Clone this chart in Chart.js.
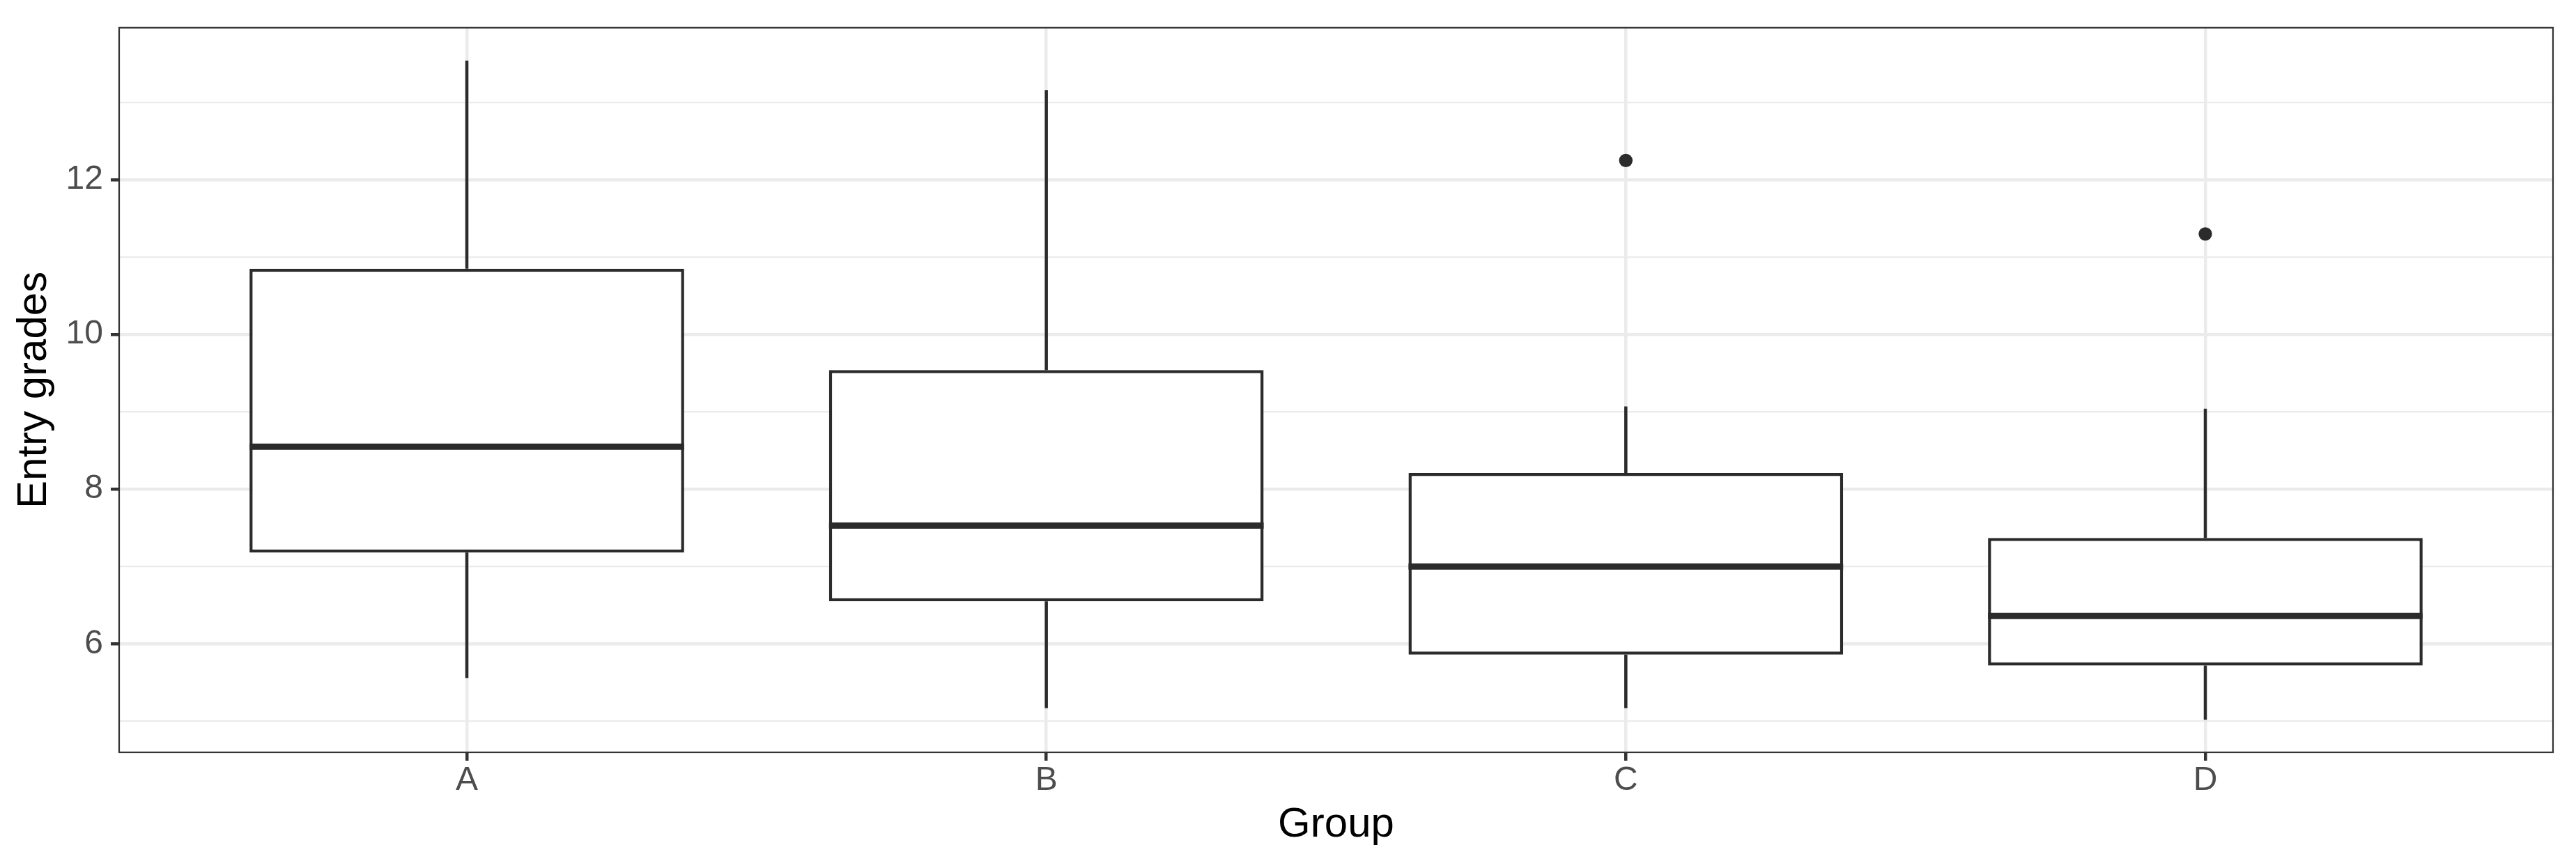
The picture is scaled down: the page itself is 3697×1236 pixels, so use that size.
<!DOCTYPE html>
<html>
<head>
<meta charset="utf-8">
<script src="https://cdn.jsdelivr.net/npm/chart.js@4/dist/chart.umd.min.js"></script>
<style>
  html, body { margin: 0; padding: 0; background: #ffffff; }
  canvas { display: block; }
</style>
</head>
<body>
<canvas id="c" width="3697" height="1236"></canvas>
<script>
// ---- Data ----
const categories   = ['A', 'B', 'C', 'D'];
const whiskerLow   = [5.56, 5.17, 5.17, 5.02];
const q1           = [7.18, 6.55, 5.86, 5.72];
const median       = [8.55, 7.53, 7.00, 6.36];
const q3           = [10.85, 9.54, 8.21, 7.37];
const whiskerHigh  = [13.54, 13.16, 9.07, 9.04];
const outlierGroup = [2, 3];          // index into categories
const outlierValue = [12.25, 11.30];
const yTickValues  = [6, 8, 10, 12];
const xTitle = 'Group';
const yTitle = 'Entry grades';

// ---- Styling constants ----
const LINE = '#2b2b2b';
const GRID = '#EBEBEB';
const BOX_W = 0.75;            // box width as fraction of category step
const LW = 4.5;                // 0.5mm line at this resolution

Chart.defaults.font.family = "'Liberation Sans', Arial, Helvetica, sans-serif";
Chart.defaults.devicePixelRatio = 1;

// build library datasets from the arrays
const boxData = categories.map((c, i) => ({ x: i, y: [q1[i], q3[i]] }));
const whiskerData = [];
categories.forEach((c, i) => {
  whiskerData.push({ x: i, y: q3[i] }, { x: i, y: whiskerHigh[i] }, { x: i, y: null });
  whiskerData.push({ x: i, y: q1[i] }, { x: i, y: whiskerLow[i] }, { x: i, y: null });
});
const medianData = [];
categories.forEach((c, i) => {
  medianData.push({ x: i - BOX_W / 2, y: median[i] }, { x: i + BOX_W / 2, y: median[i] }, { x: i, y: null });
});
const outlierData = outlierGroup.map((g, k) => ({ x: g, y: outlierValue[k] }));

const panelBorder = {
  id: 'panelBorder',
  afterDatasetsDraw(chart) {
    const { ctx, chartArea: a } = chart;
    ctx.save();
    ctx.strokeStyle = '#333333';
    ctx.lineWidth = 2.2;
    ctx.strokeRect(a.left, a.top, a.right - a.left, a.bottom - a.top);
    ctx.restore();
  }
};

new Chart(document.getElementById('c'), {
  type: 'bar',
  data: {
    datasets: [
      {
        type: 'line', label: 'median', data: medianData,
        borderColor: LINE, borderWidth: LW * 2, pointRadius: 0, spanGaps: false,
        borderCapStyle: 'butt'
      },
      {
        type: 'scatter', label: 'outliers', data: outlierData,
        pointRadius: 9.7, pointBackgroundColor: LINE, pointBorderWidth: 0, showLine: false
      },
      {
        type: 'bar', label: 'box', data: boxData,
        backgroundColor: '#ffffff', borderColor: LINE, borderWidth: LW,
        borderSkipped: false, barPercentage: BOX_W, categoryPercentage: 1.0
      },
      {
        type: 'line', label: 'whiskers', data: whiskerData,
        borderColor: LINE, borderWidth: LW, pointRadius: 0, spanGaps: false,
        borderCapStyle: 'butt'
      }
    ]
  },
  options: {
    responsive: false,
    animation: false,
    events: [],
    layout: { padding: { top: 32.5, right: 33, left: 0, bottom: 0 } },
    plugins: { legend: { display: false }, tooltip: { enabled: false } },
    scales: {
      x: {
        type: 'linear',
        min: -0.6, max: 3.6,
        offset: false,
        afterFit(scale) { scale.height = 156; },
        ticks: {
          stepSize: 1, includeBounds: false, autoSkip: false, maxRotation: 0,
          padding: 0,
          color: '#4D4D4D',
          font: { size: 48 },
          callback: (v) => (Number.isInteger(v) && categories[v] !== undefined) ? categories[v] : ''
        },
        grid: {
          offset: false,
          color: GRID, lineWidth: LW, drawTicks: true, tickLength: 12,
          tickColor: '#333333', tickWidth: LW
        },
        border: { display: false },
        title: {
          display: true, text: xTitle, color: '#000000',
          font: { size: 60 }, padding: { top: 0, bottom: 16 }
        }
      },
      y: {
        type: 'linear',
        min: 4.598, max: 13.966,
        afterFit(scale) { scale.width = 171; },
        ticks: {
          stepSize: 1, includeBounds: false, autoSkip: false,
          padding: 11,
          color: '#4D4D4D',
          font: { size: 48 },
          callback: (v) => yTickValues.includes(v) ? String(v) : ''
        },
        grid: {
          color: GRID,
          lineWidth: (ctx) => (ctx.tick && yTickValues.includes(ctx.tick.value)) ? LW : LW / 2,
          drawTicks: true, tickLength: 12,
          tickColor: (ctx) => (ctx.tick && yTickValues.includes(ctx.tick.value)) ? '#333333' : 'rgba(0,0,0,0)',
          tickWidth: LW
        },
        border: { display: false },
        title: {
          display: true, text: yTitle, color: '#000000',
          font: { size: 60 }, padding: { top: 13, bottom: 0 }
        }
      }
    }
  },
  plugins: [panelBorder]
});
</script>
</body>
</html>
